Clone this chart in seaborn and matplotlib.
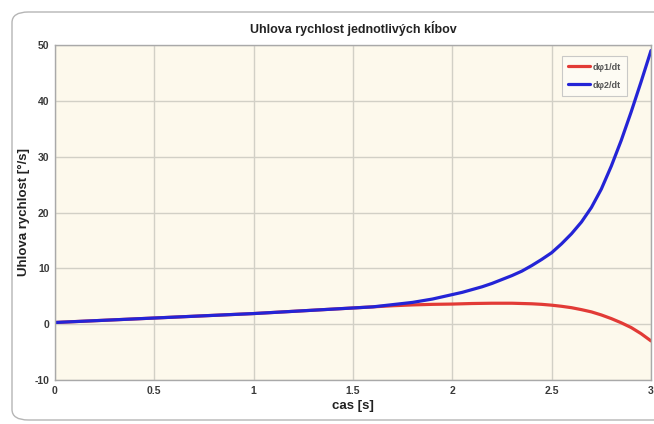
import matplotlib
matplotlib.use("Agg")
import matplotlib.pyplot as plt
from matplotlib.patches import FancyBboxPatch
import seaborn as sns
import pandas as pd

# Time samples [s] and angular velocities [°/s] of the two joints
t_1 = [0.0, 0.25, 0.5, 0.75, 1.0, 1.25, 1.5, 1.6, 1.7, 1.8, 1.9, 2.0, 2.1,
       2.2, 2.3, 2.4, 2.45, 2.5, 2.55, 2.6, 2.65, 2.7, 2.75, 2.8, 2.85, 2.9,
       2.95, 3.0]
omega_1 = [0.3, 0.7, 1.1, 1.5, 1.9, 2.4, 2.9, 3.1, 3.3, 3.45, 3.55, 3.6, 3.7,
           3.75, 3.75, 3.65, 3.55, 3.4, 3.2, 2.95, 2.6, 2.2, 1.65, 1.0, 0.25,
           -0.6, -1.7, -3.0]

t_2 = [0.0, 0.25, 0.5, 0.75, 1.0, 1.25, 1.5, 1.6, 1.7, 1.8, 1.9, 2.0, 2.05,
       2.1, 2.15, 2.2, 2.25, 2.3, 2.35, 2.4, 2.45, 2.5, 2.55, 2.6, 2.65, 2.7,
       2.75, 2.8, 2.85, 2.9, 2.95, 3.0]
omega_2 = [0.3, 0.7, 1.1, 1.5, 1.9, 2.4, 2.9, 3.1, 3.5, 3.9, 4.5, 5.3, 5.7,
           6.2, 6.7, 7.3, 8.0, 8.7, 9.5, 10.5, 11.6, 12.8, 14.4, 16.2, 18.3,
           20.9, 24.2, 28.3, 32.9, 38.0, 43.4, 49.0]

series_names = ["dφ1/dt", "dφ2/dt"]
series_colors = ["#e23b36", "#2424d6"]

x_ticks = [0, 0.5, 1, 1.5, 2, 2.5, 3]
x_tick_labels = ["0", "0.5", "1", "1.5", "2", "2.5", "3"]
y_ticks = [-10, 0, 10, 20, 30, 40, 50]
y_tick_labels = ["-10", "0", "10", "20", "30", "40", "50"]

title_text = "Uhlova rychlost jednotlivých kĺbov"
x_label = "cas [s]"
y_label = "Uhlova rychlost [°/s]"

sns.set_theme(style="whitegrid")
plt.rcParams["font.family"] = ["Liberation Sans", "DejaVu Sans"]

df = pd.concat([
    pd.DataFrame({"t": t_1, "omega": omega_1, "series": series_names[0]}),
    pd.DataFrame({"t": t_2, "omega": omega_2, "series": series_names[1]}),
], ignore_index=True)

fig = plt.figure(figsize=(6.54, 4.24), dpi=100)
fig.patch.set_facecolor("white")

# rounded frame around the whole figure (right side runs past the edge)
frame = FancyBboxPatch((12 / 654, 4 / 424), 670 / 654, 408 / 424,
                       boxstyle="round,pad=0,rounding_size=0.025",
                       transform=fig.transFigure, facecolor="none",
                       edgecolor="#b5b5b5", linewidth=1.0, clip_on=False)
fig.patches.append(frame)

ax = fig.add_axes([55 / 654, 1 - 380 / 424, (651 - 55) / 654, (380 - 45) / 424])
ax.set_facecolor("#fdf9ec")

sns.lineplot(data=df, x="t", y="omega", hue="series",
             palette=dict(zip(series_names, series_colors)),
             linewidth=2.3, ax=ax, sort=True, estimator=None)

ax.set_xlim(0, 3)
ax.set_ylim(-10, 50)
ax.set_xticks(x_ticks)
ax.set_xticklabels(x_tick_labels)
ax.set_yticks(y_ticks)
ax.set_yticklabels(y_tick_labels)
ax.grid(True, color="#d2d0c6", linewidth=1.0)
for s in ax.spines.values():
    s.set_color("#a9a9a9")
    s.set_linewidth(1.0)

ax.tick_params(axis="both", labelsize=7.5, length=0, pad=4)
for lab in ax.get_xticklabels() + ax.get_yticklabels():
    lab.set_fontweight("bold")
    lab.set_color("#3a3a3a")

ax.set_title(title_text, fontsize=9, fontweight="bold", color="#222222", pad=9)
ax.set_xlabel(x_label, fontsize=9.5, fontweight="bold", color="#222222", labelpad=3)
ax.set_ylabel(y_label, fontsize=9.5, fontweight="bold", color="#222222", labelpad=3)

leg = ax.legend(loc="upper right", bbox_to_anchor=(0.967, 0.98), fontsize=6.5,
                frameon=True, fancybox=False, handlelength=2.4,
                borderpad=0.7, labelspacing=1.0, handletextpad=0.3)
leg.get_frame().set_edgecolor("#bdbdbd")
leg.get_frame().set_facecolor("#fdfcf6")
leg.get_frame().set_linewidth(0.8)
for txt in leg.get_texts():
    txt.set_color("#555555")
    txt.set_fontweight("bold")
leg.set_title(None)

fig.savefig("out.png", dpi=100)
